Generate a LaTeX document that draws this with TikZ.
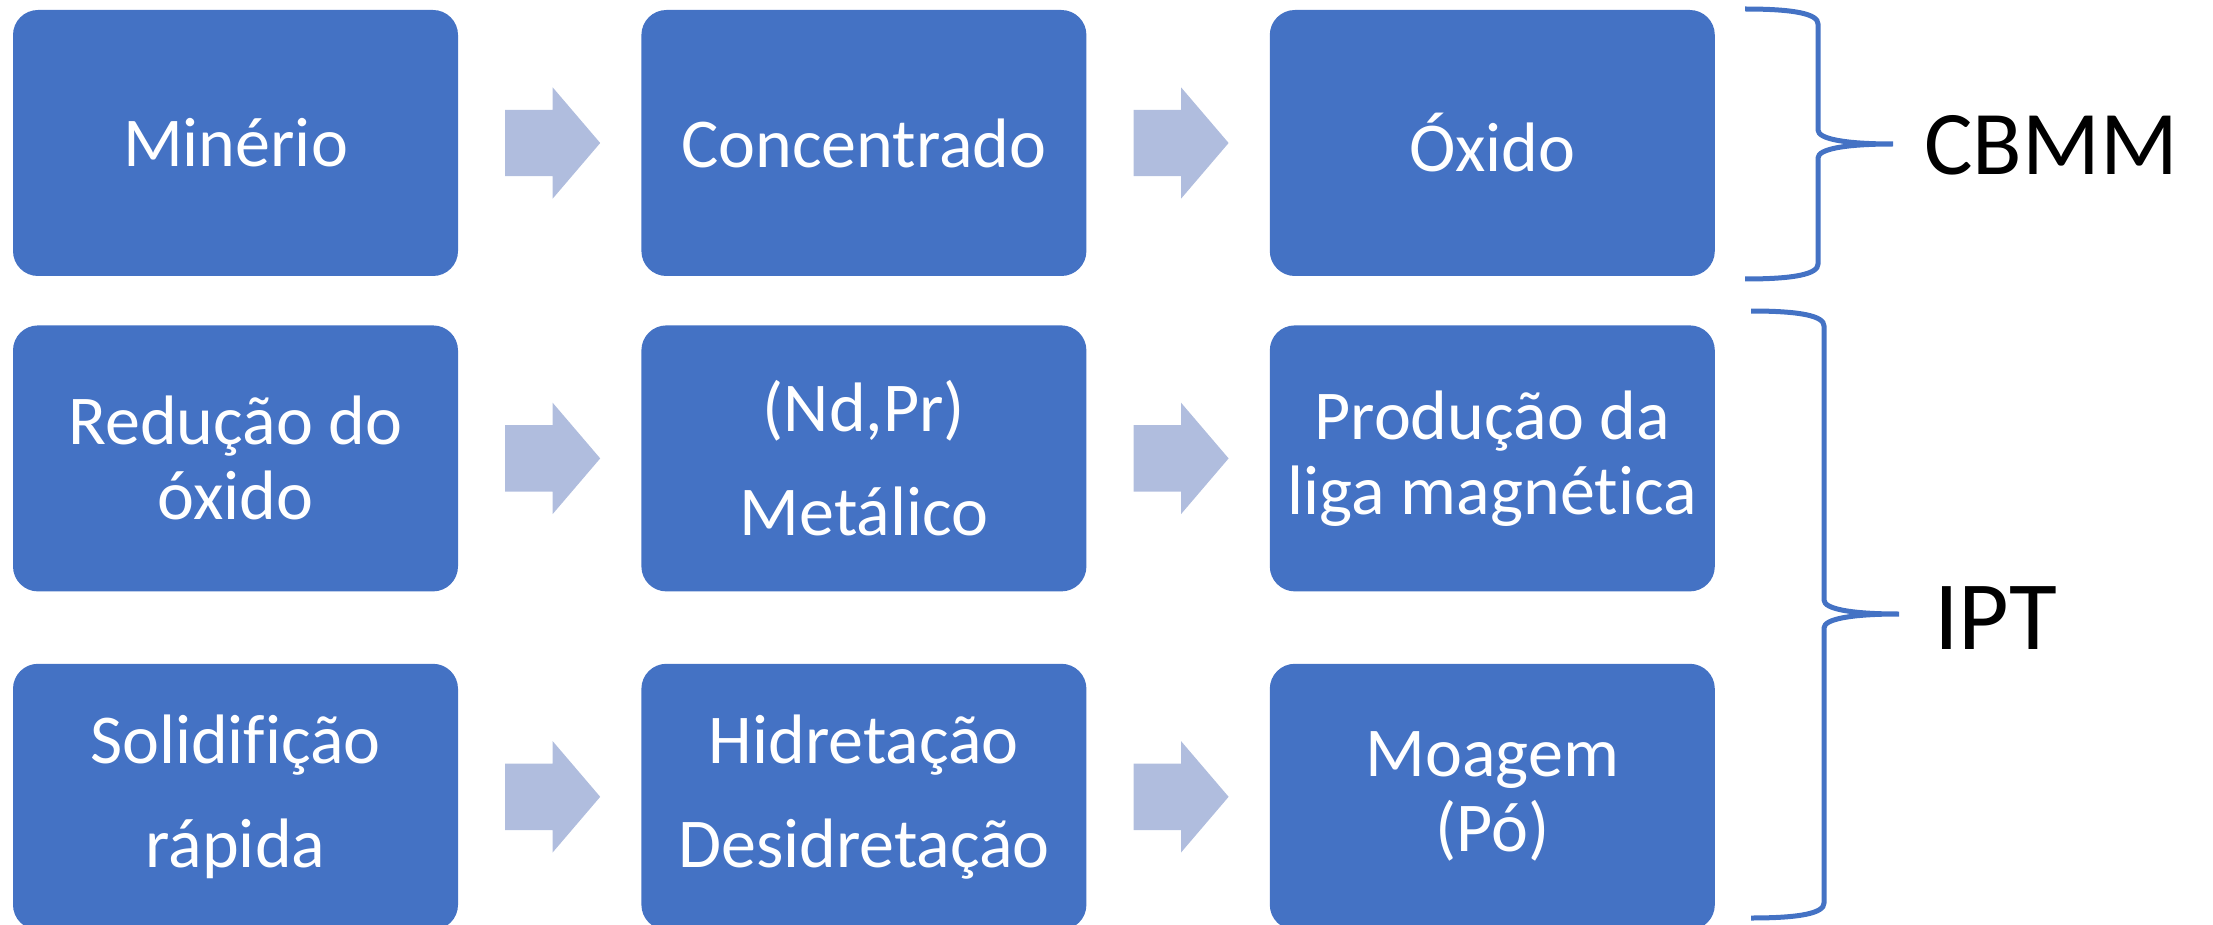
\documentclass[tikz,border=0pt]{standalone}
\usepackage{fontspec}
\setmainfont{Carlito}[Ligatures=NoCommon]
\usetikzlibrary{positioning,shapes.arrows,calc}
\definecolor{boxblue}{HTML}{4472C4}
\definecolor{arrowfill}{RGB}{176,189,222}

\begin{document}
\begin{tikzpicture}[x=1pt,y=-1pt,node distance=183pt,
	stepbox/.style={rectangle,rounded corners=25pt,fill=boxblue,text=white,
		minimum width=445pt,minimum height=266pt,align=center,inner sep=0pt,
		font=\fontsize{70}{75}\selectfont},
	widelines/.style={font=\fontsize{70}{104}\selectfont},
	flowarrow/.style={single arrow,fill=arrowfill,draw=none,inner xsep=0pt,inner ysep=33pt,
		single arrow head extend=22.5pt,single arrow tip angle=99,
		minimum height=95pt,minimum width=0pt,outer sep=0pt,anchor=tail},
	bracket/.style={draw=boxblue,line width=5pt},
	group/.style={anchor=base west,inner sep=0pt}]
	\useasboundingbox (0,0) rectangle (2213,925);
	% first row
	\node[stepbox] (minerio) at (235.5,143) {Minério};
	\node[stepbox] (concentrado) [right=of minerio] {Concentrado};
	\node[stepbox] (oxido) [right=of concentrado] {Óxido};
	% second row
	\node[stepbox] (reducao) [below=49pt of minerio] {Redução do\\óxido};
	\node[stepbox,widelines] (metalico) [right=of reducao] {(Nd,Pr)\\Metálico};
	\node[stepbox] (liga) [right=of metalico] {Produção da\\liga magnética};
	% third row
	\node[stepbox,widelines] (solidif) [below=72pt of reducao] {Solidifição\\rápida};
	\node[stepbox,widelines] (hidret) [right=of solidif] {Hidretação\\Desidretação};
	\node[stepbox] (moagem) [right=of hidret] {Moagem\\(Pó)};
	% block arrows between the boxes
	\node[flowarrow] (a1) at ($(minerio.east)+(47,0)$) {};
	\node[flowarrow] (a2) at ($(concentrado.east)+(47,0)$) {};
	\node[flowarrow] (a3) at ($(reducao.east)+(47,0)$) {};
	\node[flowarrow] (a4) at ($(metalico.east)+(47,0)$) {};
	\node[flowarrow] (a5) at ($(solidif.east)+(47,0)$) {};
	\node[flowarrow] (a6) at ($(hidret.east)+(47,0)$) {};
	% braces
	\draw[bracket] (1745,9) .. controls (1795,9) and (1818,14) .. (1818,24) -- (1818,130)
		.. controls (1818,139) and (1845,144) .. (1893,144)
		.. controls (1845,144) and (1818,149) .. (1818,158) -- (1818,264)
		.. controls (1818,274) and (1795,279) .. (1745,279);
	\draw[bracket] (1751,311) .. controls (1801,311) and (1824,316) .. (1824,326) -- (1824,600)
		.. controls (1824,609) and (1851,614) .. (1899,614)
		.. controls (1851,614) and (1824,619) .. (1824,628) -- (1824,903)
		.. controls (1824,913) and (1801,918) .. (1751,918);
	\node[group,font=\fontsize{91}{95}\selectfont] (cbmm) at (1924,175) {CBMM};
	\node[group,font=\fontsize{98}{100}\selectfont] (ipt) at (1934,649) {IPT};
\end{tikzpicture}
\end{document}
